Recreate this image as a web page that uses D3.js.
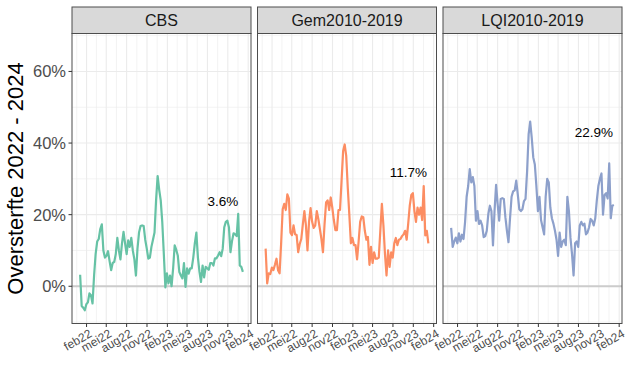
<!DOCTYPE html>
<html>
<head>
<meta charset="utf-8">
<script src="https://cdnjs.cloudflare.com/ajax/libs/d3/7.8.5/d3.min.js"></script>
<style>
body { margin: 0; background: #fff; }
text { font-family: "Liberation Sans", Arial, sans-serif; }
</style>
</head>
<body>
<script>
// facets and their colours
var panels = ["CBS", "Gem2010-2019", "LQI2010-2019"];
var colors = ["#66c2a5", "#fc8d62", "#8da0cb"];

// weekly excess mortality (%), week 1 2022 .. week 1 2024
var cbs = [3.2, -5.5, -6, -6.7, -5, -4.5, -2, -2.5, -4.8, 3,
    9, 12.5, 13.2, 16, 17.3, 10, 8, 8.5, 9.8, 7,
    4.5, 6.5, 6.8, 9, 13.5, 10, 7.5, 12, 15.2, 12,
    9, 12.8, 11, 13.5, 10, 7.5, 3, 10.5, 15, 16.8,
    17, 16.8, 13, 10.5, 7.7, 8, 11, 13, 15, 24,
    30.8, 27, 24, 17.9, 9, -0.3, 3.6, 0.8, 3, 0,
    5, 11.4, 10.2, 8.6, 4, 3, 2.2, 6.5, -0.2, 5,
    3.5, 5, 5, 8, 12, 15, 8, 4, 1.2, 5.8,
    2.5, 5.4, 5, 4.6, 6.5, 6.5, 5.8, 7.8, 7.8, 8.6,
    9.5, 8.4, 10.5, 16.5, 18, 18.3, 16.5, 9.5, 12.6, 14.8,
    14.5, 14, 20.2, 5.8, 5.4, 4];
var gem = [10.5, 0.8, 3.6, 3.4, 5.2, 4.5, 6, 7.7, 4.5, 3.6,
    12, 21.5, 23, 21.3, 25.7, 24.5, 15, 14.3, 17, 14.5,
    14.3, 9.5, 11.8, 13.2, 17.3, 21, 17, 10, 18, 21.8,
    18, 16.3, 17, 21, 18.8, 16, 13.2, 9.5, 17.3, 23.4,
    24, 21.3, 24.8, 22, 18.5, 15.7, 15.7, 21.3, 21.3, 29.5,
    37.8, 39.6, 36.4, 27.5, 20, 12, 13.5, 11.5, 11.5, 7.5,
    12.5, 18, 19.5, 19.3, 15.5, 13, 13.8, 6, 11, 6.5,
    9.5, 7.7, 7.7, 8, 15.5, 23, 17, 9, 3, 10,
    5.4, 9.5, 8, 12, 13.5, 11.5, 13, 13.2, 14, 14.5,
    15.5, 13, 17.5, 22.5, 25.5, 26, 21, 18, 22, 20,
    22, 18.5, 28, 14.2, 15.5, 12];
var lqi = [16.3, 11, 12.5, 13.6, 12, 14.8, 12.5, 14.4, 13.2, 18,
    25, 28, 32.7, 29, 30.5, 28, 18.3, 21, 17.4, 18.3,
    17, 13.7, 14, 15.5, 20.2, 22.5, 21, 11.4, 21, 28.3,
    23, 18.3, 24.4, 24.6, 24.4, 19.3, 15.5, 12.3, 19, 25,
    26.5, 26.8, 29.5, 25.7, 21.5, 21, 21.5, 23.8, 24.4, 32,
    42.4, 46, 41.5, 36, 34, 28, 21, 25, 18.5, 16.5,
    14.5, 25, 30, 29, 22, 19, 17.5, 15.5, 13, 8.5,
    15, 11, 12.5, 13, 11.5, 25, 21, 13.5, 9, 3,
    12, 12.5, 11, 17, 18, 17, 17.5, 14.5, 15, 16.5,
    18.8, 18.3, 17, 19, 24, 28, 30, 31.5, 20, 25.5,
    26, 24.5, 34.3, 19, 22.5, 22.7];

var meanLabels = ["3.6%", "11.7%", "22.9%"];
var meanValues = [3.6, 11.7, 22.9];
var firstWeek = "2022-01-03";
var labelDate = "2023-10-10";

var tickDates = ["2022-02-01", "2022-05-01", "2022-08-01", "2022-11-01", "2023-02-01",
    "2023-05-01", "2023-08-01", "2023-11-01", "2024-02-01"];
var tickLabels = ["feb22", "mei22", "aug22", "nov22", "feb23", "mei23", "aug23", "nov23", "feb24"];
var yTicks = [0, 20, 40, 60];
var yMinor = [-10, 10, 30, 50, 70];

var width = 629, height = 389;
var panelTop = 33.5, panelBottom = 323.5, stripTop = 7;
var panelW = 179, panelGap = 6.5, left = 72;

var parse = d3.timeParse("%Y-%m-%d");
var start = parse(firstWeek);
var series = [cbs, gem, lqi];
var weeks = cbs.map(function (d, i) { return d3.timeWeek.offset(start, i); });
var majors = tickDates.map(parse);
var minors = [];
for (var k = 0; k < majors.length - 1; k++) {
    minors.push(new Date((+majors[k] + +majors[k + 1]) / 2));
}
minors.unshift(new Date(+majors[0] - (+majors[1] - +majors[0]) / 2));

var t0 = +weeks[0], t1 = +weeks[weeks.length - 1], pad = (t1 - t0) * 0.05;
var x = d3.scaleTime()
    .domain([new Date(t0 - pad), new Date(t1 + pad)])
    .range([0, panelW]);
var y = d3.scaleLinear()
    .domain([-10.4, 70.6])
    .range([panelBottom, panelTop]);

var svg = d3.select("body")
    .append("svg")
    .attr("width", width)
    .attr("height", height);

svg.append("rect").attr("width", width).attr("height", height).attr("fill", "white");

var line = d3.line()
    .x(function (d, i) { return x(weeks[i]); })
    .y(function (d) { return y(d); });

panels.forEach(function (name, p) {
    var g = svg.append("g")
        .attr("transform", "translate(" + (left + p * (panelW + panelGap)) + ",0)");

    // grid
    g.selectAll(".vminor").data(minors.filter(function (d) { return x(d) > 0 && x(d) < panelW; }))
        .enter().append("line")
        .attr("x1", function (d) { return x(d); }).attr("x2", function (d) { return x(d); })
        .attr("y1", panelTop).attr("y2", panelBottom)
        .style("stroke", "#ebebeb").style("stroke-width", 0.6);
    g.selectAll(".hminor").data(yMinor)
        .enter().append("line")
        .attr("x1", 0).attr("x2", panelW)
        .attr("y1", function (d) { return y(d); }).attr("y2", function (d) { return y(d); })
        .style("stroke", "#ebebeb").style("stroke-width", 0.6);
    g.selectAll(".vmajor").data(majors)
        .enter().append("line")
        .attr("x1", function (d) { return x(d); }).attr("x2", function (d) { return x(d); })
        .attr("y1", panelTop).attr("y2", panelBottom)
        .style("stroke", "#ebebeb").style("stroke-width", 1.1);
    g.selectAll(".hmajor").data(yTicks)
        .enter().append("line")
        .attr("x1", 0).attr("x2", panelW)
        .attr("y1", function (d) { return y(d); }).attr("y2", function (d) { return y(d); })
        .style("stroke", "#ebebeb").style("stroke-width", 1.1);

    // zero line
    g.append("line")
        .attr("x1", 0).attr("x2", panelW)
        .attr("y1", y(0)).attr("y2", y(0))
        .style("stroke", "#cccccc").style("stroke-width", 2);

    g.append("path")
        .datum(series[p])
        .attr("d", line)
        .style("fill", "none")
        .style("stroke", colors[p])
        .style("stroke-width", 2.2)
        .style("stroke-linejoin", "round");

    g.append("text")
        .attr("x", x(parse(labelDate)))
        .attr("y", y(meanValues[p] + 20))
        .attr("dy", "0.35em")
        .attr("text-anchor", "middle")
        .style("font-size", "13.5px")
        .style("fill", "#000")
        .text(meanLabels[p]);

    // border
    g.append("rect")
        .attr("x", 0).attr("y", panelTop)
        .attr("width", panelW).attr("height", panelBottom - panelTop)
        .style("fill", "none").style("stroke", "#4d4d4d").style("stroke-width", 1);

    // strip
    g.append("rect")
        .attr("x", 0).attr("y", stripTop)
        .attr("width", panelW).attr("height", panelTop - stripTop)
        .style("fill", "#d9d9d9").style("stroke", "#4d4d4d").style("stroke-width", 1);
    g.append("text")
        .attr("x", panelW / 2)
        .attr("y", (stripTop + panelTop) / 2)
        .attr("dy", "0.36em")
        .attr("text-anchor", "middle")
        .style("font-size", "16px")
        .style("fill", "#1a1a1a")
        .text(name);

    // x axis
    g.selectAll(".xtick").data(majors)
        .enter().append("line")
        .attr("x1", function (d) { return x(d); }).attr("x2", function (d) { return x(d); })
        .attr("y1", panelBottom).attr("y2", panelBottom + 3.5)
        .style("stroke", "#333").style("stroke-width", 1);
    g.selectAll(".xlab").data(majors)
        .enter().append("text")
        .attr("transform", function (d) {
            return "translate(" + (x(d) + 2) + "," + (panelBottom + 5) + ") rotate(-30)";
        })
        .attr("dy", "0.72em")
        .attr("text-anchor", "end")
        .style("font-size", "12px")
        .style("fill", "#4d4d4d")
        .text(function (d, i) { return tickLabels[i]; });

    if (p === 0) {
        g.selectAll(".ytick").data(yTicks)
            .enter().append("line")
            .attr("x1", -3.5).attr("x2", 0)
            .attr("y1", function (d) { return y(d); }).attr("y2", function (d) { return y(d); })
            .style("stroke", "#333").style("stroke-width", 1);
        g.selectAll(".ylab").data(yTicks)
            .enter().append("text")
            .attr("x", -6)
            .attr("y", function (d) { return y(d); })
            .attr("dy", "0.36em")
            .attr("text-anchor", "end")
            .style("font-size", "16.5px")
            .style("fill", "#4d4d4d")
            .text(function (d) { return d + "%"; });
    }
});

svg.append("text")
    .attr("transform", "translate(23," + ((panelTop + panelBottom) / 2) + ") rotate(-90)")
    .attr("text-anchor", "middle")
    .style("font-size", "22px")
    .style("fill", "#000")
    .text("Oversterfte 2022 - 2024");
</script>
</body>
</html>
